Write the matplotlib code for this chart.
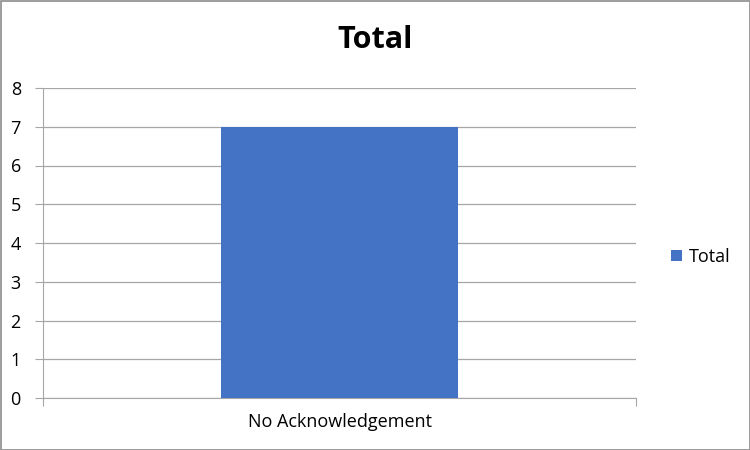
import matplotlib.pyplot as plt
from matplotlib.patches import Rectangle

categories = ["No Acknowledgement"]
values = [7]
series_name = "Total"
bar_color = "#4472C4"

plt.rcParams['font.family'] = ['Open Sans', 'DejaVu Sans']

fig = plt.figure(figsize=(7.5, 4.5), dpi=100)
ax = fig.add_axes([43/750, 1-398/450, 593/750, 310/450])

ax.bar(range(len(categories)), values, width=0.4, color=bar_color, label=series_name, zorder=3)

ax.set_xlim(-0.5, len(categories) - 0.5)
ax.set_ylim(0, 8)
ax.set_yticks(range(0, 9))
ax.yaxis.grid(True, color="#a6a6a6", linewidth=0.9, zorder=0)
ax.tick_params(axis='y', length=6, color="#a6a6a6", labelsize=13, pad=10)

# category boundaries get tick marks, labels sit in the middle
ax.set_xticks([i - 0.5 for i in range(len(categories) + 1)])
ax.set_xticklabels([])
ax.set_xticks(range(len(categories)), minor=True)
ax.set_xticklabels(categories, minor=True, fontsize=13)
ax.tick_params(axis='x', which='minor', length=0, pad=11)
ax.tick_params(axis='x', which='major', length=6, color="#a6a6a6")

for s in ['top', 'right']:
    ax.spines[s].set_visible(False)
ax.spines['left'].set_color("#a6a6a6")
ax.spines['bottom'].set_color("#a6a6a6")

fig.text(375/750, 1-40/450, "Total", ha='center', va='center', fontsize=22, fontweight='bold')

fig.legend(loc='center left', bbox_to_anchor=(655/750, 1-257/450), frameon=False,
           fontsize=13, handlelength=0.6, handleheight=0.6, handletextpad=0.4)

fig.patches.append(Rectangle((0.5/750, 0.5/450), 749/750, 449/450, transform=fig.transFigure,
                             fill=False, edgecolor="#8c8c8c", linewidth=1.2))

fig.savefig("out.png", dpi=100)
